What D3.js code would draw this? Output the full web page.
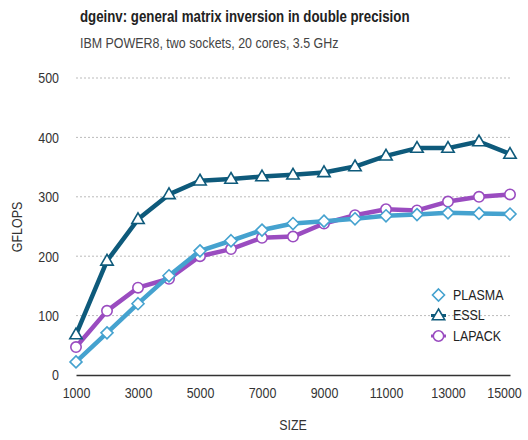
<!DOCTYPE html>
<html><head><meta charset="utf-8">
<script src="https://cdn.jsdelivr.net/npm/d3@7"></script>
<style>body{margin:0;background:#fff}svg{display:block}text{font-family:"Liberation Sans Narrow","Liberation Sans",Arial,sans-serif}</style>
</head><body><svg id="c" width="528" height="440"></svg>
<script>
const sizes = [1000,2000,3000,4000,5000,6000,7000,8000,9000,10000,11000,12000,13000,14000,15000];
const plasma = [22,71,120,167,209,226,244,255,259,263,268,270,273,272,271];
const essl = [68,192,262,304,327,330,334,337,341,351,369,382,382,393,372];
const lapack = [47,108,147,162,200,212,231,233,255,269,279,277,292,300,304];
const xTicks = [1000,3000,5000,7000,9000,11000,13000,15000];
const yTicks = [0,100,200,300,400,500];
const seriesNames = ["PLASMA","ESSL","LAPACK"];
const colors = {PLASMA:"#45a2cf", ESSL:"#0e5a7b", LAPACK:"#9a4cc0"};
const dataBy = {PLASMA:plasma, ESSL:essl, LAPACK:lapack};
const symPath = {
  PLASMA: "M0,-6L6,0L0,6L-6,0Z",
  ESSL: "M0,-6.5L6.2,4.2L-6.2,4.2Z",
  LAPACK: "M5.2,0A5.2,5.2 0 1,1 -5.2,0A5.2,5.2 0 1,1 5.2,0Z"
};

const svg = d3.select("#c");
const x = d3.scaleLinear().domain([1000,15000]).range([76,510]);
const y = d3.scaleLinear().domain([0,500]).range([375,78]);

svg.append("text").attr("x",80).attr("y",22).attr("font-weight","bold").attr("font-size",16).attr("fill","#222")
  .attr("transform","translate(80,0) scale(0.83,1) translate(-80,0)")
  .text("dgeinv: general matrix inversion in double precision");
svg.append("text").attr("x",80).attr("y",48).attr("font-size",15).attr("fill","#444")
  .attr("transform","translate(80,0) scale(0.83,1) translate(-80,0)")
  .text("IBM POWER8, two sockets, 20 cores, 3.5 GHz");

// grid
svg.append("g").selectAll("line").data(yTicks.filter(d=>d>0)).join("line")
  .attr("x1",76).attr("x2",510).attr("y1",d=>y(d)).attr("y2",d=>y(d))
  .attr("stroke","#bbb").attr("stroke-width",1).attr("stroke-dasharray","2,2");

// y axis
const ya = svg.append("g").attr("transform","translate(59,0)").call(d3.axisLeft(y).tickValues(yTicks).tickSize(0).tickPadding(0));
ya.select(".domain").remove();
ya.selectAll("text").attr("font-size",15).attr("fill","#333").attr("font-family",null)
  .attr("transform","scale(0.83,1)");

// x axis
const xa = svg.append("g").attr("transform","translate(0,375)").call(d3.axisBottom(x).tickValues(xTicks).tickFormat(d3.format("d")).tickSize(0).tickPadding(12));
xa.select(".domain").attr("stroke","#333").attr("stroke-width",1.5);
xa.selectAll("text").attr("font-size",15).attr("fill","#333").attr("font-family",null)
  .attr("transform",d=>d===15000?"translate(-6,0) scale(0.83,1)":"scale(0.83,1)");

svg.append("text").attr("x",293).attr("y",430).attr("text-anchor","middle").attr("font-size",15).attr("fill","#333")
  .attr("transform","translate(293,0) scale(0.83,1) translate(-293,0)").text("SIZE");
svg.append("text").attr("transform","translate(22,227) rotate(-90) scale(0.83,1)").attr("text-anchor","middle").attr("font-size",15).attr("fill","#333").text("GFLOPS");

const line = d3.line().x((d,i)=>x(sizes[i])).y(d=>y(d));
["LAPACK","PLASMA","ESSL"].forEach(name=>{
  const g = svg.append("g");
  g.append("path").datum(dataBy[name]).attr("d",line).attr("fill","none").attr("stroke",colors[name]).attr("stroke-width",4.5).attr("stroke-linejoin","round");
  g.selectAll("path.m").data(dataBy[name]).join("path").attr("class","m")
    .attr("transform",(d,i)=>`translate(${x(sizes[i])},${y(d)})`)
    .attr("d",symPath[name])
    .attr("fill","#fff").attr("stroke",colors[name]).attr("stroke-width",1.6);
});

// legend
const lg = svg.append("g");
seriesNames.forEach((name,i)=>{
  const cy = 295 + i*20.5;
  if(name!=="PLASMA") lg.append("line").attr("x1",431).attr("x2",446).attr("y1",cy).attr("y2",cy).attr("stroke",colors[name]).attr("stroke-width",3);
  lg.append("path").attr("transform",`translate(438.5,${cy})`).attr("d",symPath[name])
    .attr("fill","#fff").attr("stroke",colors[name]).attr("stroke-width",1.6);
  lg.append("text").attr("x",453).attr("y",cy+5).attr("font-size",15).attr("fill","#222")
    .attr("transform",`translate(453,0) scale(0.83,1) translate(-453,0)`).text(name);
});
</script></body></html>
